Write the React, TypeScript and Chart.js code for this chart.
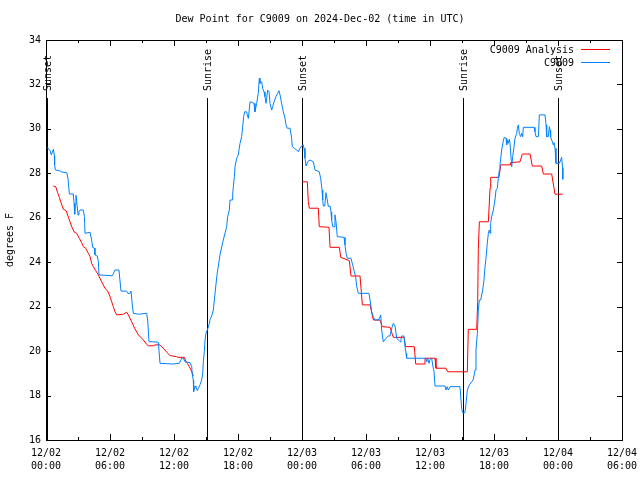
import React, { useEffect, useRef } from "react";
import { Chart, registerables } from "chart.js";

Chart.register(...registerables);

// ---------- text ----------
const TITLE = "Dew Point for C9009 on 2024-Dec-02 (time in UTC)";
const Y_TITLE = "degrees F";
const SERIES_ANALYSIS = "C9009 Analysis";
const SERIES_OBS = "C9009";

// ---------- axes (x in hours since 2024-12-02 00:00 UTC) ----------
const X_MIN = 0;
const X_MAX = 54;
const Y_MIN = 16;
const Y_MAX = 34;
const xTickHours = [0, 6, 12, 18, 24, 30, 36, 42, 48, 54];
const xTickDates = ["12/02", "12/02", "12/02", "12/02", "12/03", "12/03", "12/03", "12/03", "12/04", "12/04"];
const xTickTimes = ["00:00", "06:00", "12:00", "18:00", "00:00", "06:00", "12:00", "18:00", "00:00", "06:00"];
const yTickValues = [16, 18, 20, 22, 24, 26, 28, 30, 32, 34];

// ---------- sun events ----------
const eventHours = [0.1, 15.06, 24.0, 39.12, 48.0];
const eventLabels = ["Sunset", "Sunrise", "Sunset", "Sunrise", "Sunset"];

// ---------- C9009 Analysis (red) ----------
const analysisHours = [
  0.68, 0.91, 1.09, 1.25, 1.41, 1.63, 1.88, 2.06, 2.25, 2.44, 2.66, 2.88, 3.13, 3.34, 3.5, 3.72, 3.97, 4.13, 4.28, 4.44,
  4.66, 4.91, 5.22, 5.53, 5.78, 6.0, 6.16, 6.31, 6.47, 6.63, 7.25, 7.56, 7.72, 8.03, 8.34, 8.66, 9.13, 9.44, 9.59, 10.06,
  10.22, 10.69, 11.0, 11.31, 11.63, 12.25, 12.38, 12.97, 13.06, 13.25, 13.44, 13.59, 13.72, 13.81,
  18.0,
  24.03, 24.5, 24.59, 24.69, 25.53, 25.62, 26.53, 26.63, 27.5, 27.63, 28.44, 28.59, 29.44, 29.66, 30.38, 30.69, 31.31,
  31.53, 32.25, 32.56, 33.56, 33.72, 34.53, 34.66, 35.47, 35.53, 36.47, 36.56, 37.5, 37.66, 39.5, 39.59, 40.38, 40.47,
  40.53, 40.63, 41.47, 41.63, 41.69, 42.47, 42.63, 43.5, 43.56, 44.44, 44.66, 45.38, 45.59, 46.47, 46.63, 47.41, 47.72,
  48.44,
];
const analysisValues = [
  27.43, 27.4, 27.13, 26.92, 26.68, 26.38, 26.32, 26.08, 25.82, 25.57, 25.35, 25.3, 25.07, 24.88, 24.7, 24.63, 24.4, 24.25,
  23.95, 23.8, 23.62, 23.43, 23.12, 22.83, 22.7, 22.45, 22.22, 22.0, 21.77, 21.63, 21.66, 21.75, 21.63, 21.32, 21.0, 20.73,
  20.5, 20.3, 20.24, 20.24, 20.28, 20.28, 20.13, 19.95, 19.8, 19.75, 19.72, 19.72, 19.6, 19.45, 19.3, 19.15, 19.0, 18.88,
  null,
  27.62, 27.62, 26.73, 26.43, 26.43, 25.6, 25.57, 24.67, 24.67, 24.22, 24.07, 23.38, 23.38, 22.08, 22.08, 21.4, 21.4,
  21.1, 21.07, 20.62, 20.62, 20.2, 20.2, 19.42, 19.42, 19.68, 19.68, 19.23, 19.23, 19.07, 19.07, 20.98, 20.98, 22.22,
  24.63, 25.82, 25.82, 27.33, 27.82, 27.82, 28.38, 28.38, 28.48, 28.52, 28.87, 28.87, 28.33, 28.33, 27.97, 27.97, 27.06,
  27.06,
];

// ---------- C9009 observations (blue) ----------
const obsHours = [
  0.12, 0.38, 0.5, 0.69, 0.78, 0.81, 0.88, 1.25, 1.47, 1.94, 2.06, 2.19, 2.56, 2.63, 2.69, 2.75, 2.81, 2.88, 3.0, 3.09,
  3.19, 3.5, 3.6, 3.66, 4.13, 4.28, 4.37, 4.53, 4.59, 4.81, 4.91, 4.97, 6.22, 6.47, 6.84, 7.03, 7.56, 7.66, 7.88, 7.97,
  8.09, 8.19, 8.66, 9.44, 9.53, 9.66, 9.97, 10.53, 10.69, 11.94, 12.5, 12.72, 12.87, 13.03, 13.5, 13.66, 13.72, 13.81,
  13.84, 13.97, 14.06, 14.19, 14.28, 14.44, 14.59, 14.69, 14.75, 14.84, 14.91, 15.0, 15.12, 15.22, 15.31, 15.38, 15.53,
  15.69, 15.78, 16.03, 16.31, 16.62, 16.78, 16.94, 17.03, 17.19, 17.25, 17.47, 17.5, 17.56, 17.66, 17.72, 17.88, 18.03,
  18.12, 18.19, 18.34, 18.44, 18.53, 18.63, 18.81, 18.87, 18.97, 19.13, 19.38, 19.5, 19.59, 19.75, 19.9, 20.0, 20.06,
  20.22, 20.31, 20.44, 20.53, 20.63, 20.78, 20.91, 21.0, 21.16, 21.25, 21.38, 21.56, 21.72, 21.84, 21.94, 22.09, 22.25,
  22.41, 22.5, 22.62, 22.88, 23.03, 23.09, 23.28, 23.5, 23.66, 23.81, 23.97, 24.12, 24.19, 24.28, 24.38, 24.53, 24.75,
  25.06, 25.22, 25.62, 25.75, 25.88, 25.94, 26.0, 26.13, 26.25, 26.37, 26.47, 26.63, 26.72, 26.78, 26.88, 27.0, 27.09,
  27.19, 27.31, 27.94, 28.03, 28.13, 28.25, 28.59, 28.75, 28.88, 29.03, 29.13, 29.28, 30.28, 30.38, 30.53, 30.69, 30.84,
  31.16, 31.25, 31.38, 31.47, 31.62, 31.88, 32.09, 32.25, 32.41, 32.56, 32.72, 32.88, 33.19, 33.28, 33.34, 33.56, 33.66,
  33.75, 33.81, 35.6, 35.69, 35.78, 35.91, 36.0, 36.16, 36.25, 36.38, 36.47, 37.41, 37.5, 37.62, 37.72, 37.88, 38.81,
  38.88, 38.97, 39.06, 39.28, 39.38, 39.5, 39.69, 39.91, 40.06, 40.22, 40.31, 40.44, 40.53, 40.63, 40.75, 40.94, 41.06,
  41.16, 41.25, 41.37, 41.47, 41.56, 41.63, 41.69, 41.78, 41.94, 42.09, 42.19, 42.31, 42.41, 42.5, 42.56, 42.63, 42.72,
  42.81, 42.88, 42.97, 43.13, 43.19, 43.28, 43.34, 43.44, 43.5, 43.66, 43.75, 43.88, 43.97, 44.13, 44.19, 44.28, 44.37,
  44.5, 44.59, 44.69, 44.75, 45.75, 45.84, 45.94, 46.16, 46.25, 46.78, 46.88, 46.94, 47.09, 47.19, 47.25, 47.31, 47.47,
  47.56, 47.63, 47.72, 47.81, 48.13, 48.25, 48.34, 48.44, 48.45,
];
const obsValues = [
  29.17, 29.02, 28.83, 29.08, 28.8, 28.38, 28.15, 28.12, 28.06, 28.03, 27.78, 27.07, 27.07, 26.65, 26.16, 26.61, 27.01,
  26.72, 26.13, 26.27, 26.35, 26.35, 26.05, 25.3, 25.35, 25.0, 24.67, 24.64, 24.33, 24.28, 24.02, 23.43, 23.39, 23.65,
  23.65, 22.7, 22.7, 22.6, 22.6, 22.7, 22.08, 21.7, 21.66, 21.7, 21.4, 20.42, 20.42, 20.4, 19.45, 19.42, 19.45, 19.68,
  19.68, 19.52, 19.48, 19.3, 18.93, 18.7, 18.17, 18.43, 18.37, 18.22, 18.33, 18.48, 18.7, 18.97, 19.52, 19.97, 20.5, 20.8,
  20.95, 21.07, 21.25, 21.43, 21.58, 21.85, 22.3, 23.43, 24.33, 25.0, 25.3, 25.6, 26.05, 26.35, 26.8, 26.8, 27.03, 27.4,
  27.85, 28.3, 28.68, 28.83, 29.13, 29.35, 29.65, 30.1, 30.55, 30.77, 30.77, 30.63, 30.47, 31.22, 31.18, 31.15, 30.77,
  31.15, 31.6, 32.28, 32.05, 32.12, 31.83, 31.67, 31.45, 31.15, 31.75, 31.67, 31.15, 30.85, 31.0, 31.22, 31.45, 31.6,
  31.72, 31.53, 31.15, 30.77, 30.47, 30.18, 30.03, 30.03, 29.58, 29.2, 29.13, 29.05, 28.97, 29.13, 29.23, 29.28, 29.13,
  28.68, 28.33, 28.52, 28.6, 28.52, 28.15, 28.07, 27.77, 27.25, 26.8, 26.53, 26.53, 27.13, 26.8, 26.5, 26.53, 26.27, 25.9,
  25.6, 25.6, 26.13, 25.82, 25.15, 25.12, 24.78, 24.4, 24.18, 24.18, 23.88, 23.62, 23.35, 22.9, 22.6, 22.6, 22.3, 21.77,
  21.55, 21.4, 21.4, 21.48, 21.63, 20.95, 20.42, 20.58, 20.68, 20.68, 21.03, 21.25, 21.13, 20.58, 20.42, 20.53, 20.68,
  20.68, 20.2, 19.9, 19.68, 19.68, 19.52, 19.68, 19.45, 19.63, 19.68, 19.38, 19.07, 18.43, 18.43, 18.25, 18.4, 18.25,
  18.4, 18.4, 17.95, 17.43, 17.23, 17.23, 17.65, 18.25, 18.48, 18.62, 18.73, 19.15, 20.05, 20.8, 21.85, 22.3, 22.3, 22.75,
  23.2, 23.8, 24.18, 24.85, 25.3, 25.45, 25.3, 25.75, 26.05, 26.35, 26.8, 27.25, 27.33, 27.78, 28.15, 28.38, 28.68, 29.05,
  29.28, 29.5, 29.62, 29.58, 29.28, 29.5, 29.35, 29.53, 29.35, 28.3, 28.75, 29.2, 29.58, 29.8, 30.03, 30.18, 29.8, 29.65,
  29.8, 29.65, 30.07, 30.07, 29.87, 29.65, 29.65, 30.63, 30.63, 30.18, 29.65, 29.65, 30.1, 29.95, 29.62, 29.43, 29.28,
  29.38, 29.13, 28.45, 28.45, 28.6, 28.72, 28.23, 27.73,
];

const RED = "#ff0000";
const BLUE = "#0080ff";
const FONT = "'DejaVu Sans Mono', 'Liberation Mono', monospace";
const FONT_SIZE = 10;

const toPoints = (xs: number[], ys: (number | null)[]) => xs.map((x, i) => ({ x, y: ys[i] }));

const gnuplotPlugin = {
  id: "gnuplotDecor",
  beforeDatasetsDraw(chart: any) {
    const { ctx, chartArea: a, scales } = chart;
    const xs = scales.x;
    const ys = scales.y;
    ctx.save();
    ctx.strokeStyle = "#000";
    ctx.lineWidth = 1;
    // frame
    ctx.strokeRect(a.left + 0.5, a.top + 0.5, a.right - a.left, a.bottom - a.top);
    // x ticks (major every 6h, minor every 3h), mirrored on top
    ctx.beginPath();
    for (let t = X_MIN; t <= X_MAX; t += 3) {
      const px = Math.round(xs.getPixelForValue(t)) + 0.5;
      const len = t % 6 === 0 ? 6 : 3;
      ctx.moveTo(px, a.bottom);
      ctx.lineTo(px, a.bottom - len);
      ctx.moveTo(px, a.top);
      ctx.lineTo(px, a.top + len);
    }
    // y ticks, mirrored on right
    for (const v of yTickValues) {
      const py = Math.round(ys.getPixelForValue(v)) + 0.5;
      ctx.moveTo(a.left, py);
      ctx.lineTo(a.left + 5, py);
      ctx.moveTo(a.right, py);
      ctx.lineTo(a.right - 5, py);
    }
    ctx.stroke();
    // sun events
    ctx.fillStyle = "#000";
    ctx.font = `${FONT_SIZE}px ${FONT}`;
    eventHours.forEach((t, i) => {
      const px = Math.round(xs.getPixelForValue(t)) + 0.5;
      ctx.beginPath();
      ctx.moveTo(px, a.top + 58);
      ctx.lineTo(px, a.bottom);
      ctx.stroke();
      ctx.save();
      ctx.translate(px + 1, a.top + 51);
      ctx.rotate(-Math.PI / 2);
      ctx.textAlign = "left";
      ctx.textBaseline = "middle";
      ctx.fillText(eventLabels[i], 0, 0);
      ctx.restore();
    });
    ctx.restore();
  },
  afterDraw(chart: any) {
    const { ctx, chartArea: a, width } = chart;
    ctx.save();
    ctx.fillStyle = "#000";
    ctx.font = `${FONT_SIZE}px ${FONT}`;
    // title
    ctx.textAlign = "center";
    ctx.textBaseline = "middle";
    ctx.fillText(TITLE, width / 2, 19);
    // y title
    ctx.save();
    ctx.translate(10, (a.top + a.bottom) / 2);
    ctx.rotate(-Math.PI / 2);
    ctx.fillText(Y_TITLE, 0, 0);
    ctx.restore();
    // legend
    const entries = [
      { label: SERIES_ANALYSIS, color: RED },
      { label: SERIES_OBS, color: BLUE },
    ];
    entries.forEach((e, i) => {
      const yy = a.top + 10 + i * 13;
      ctx.textAlign = "right";
      ctx.fillStyle = "#000";
      ctx.fillText(e.label, a.right - 48, yy);
      ctx.strokeStyle = e.color;
      ctx.lineWidth = 1;
      ctx.beginPath();
      ctx.moveTo(a.right - 41, Math.round(yy) - 0.5);
      ctx.lineTo(a.right - 12, Math.round(yy) - 0.5);
      ctx.stroke();
    });
    ctx.restore();
  },
};

export default function App() {
  const canvasRef = useRef<HTMLCanvasElement | null>(null);

  useEffect(() => {
    document.body.style.margin = "0";
    const canvas = canvasRef.current;
    if (!canvas) return;
    const chart = new Chart(canvas, {
      type: "line",
      data: {
        datasets: [
          {
            label: SERIES_ANALYSIS,
            data: toPoints(analysisHours, analysisValues),
            borderColor: RED,
            backgroundColor: RED,
            borderWidth: 1,
            pointRadius: 0,
            tension: 0,
            spanGaps: false,
            fill: false,
            order: 2,
          },
          {
            label: SERIES_OBS,
            data: toPoints(obsHours, obsValues),
            borderColor: BLUE,
            backgroundColor: BLUE,
            borderWidth: 1,
            pointRadius: 0,
            tension: 0,
            fill: false,
            order: 1,
          },
        ],
      },
      options: {
        responsive: false,
        animation: false,
        events: [],
        layout: { padding: { top: 40, right: 18, left: 0, bottom: 0 } },
        plugins: {
          legend: { display: false },
          title: { display: false },
          tooltip: { enabled: false },
        },
        scales: {
          x: {
            type: "linear",
            min: X_MIN,
            max: X_MAX,
            afterFit: (scale: any) => {
              scale.height = 40;
              scale.paddingLeft = 0;
              scale.paddingRight = 0;
            },
            afterBuildTicks: (scale: any) => {
              scale.ticks = xTickHours.map((v) => ({ value: v }));
            },
            grid: { display: false, drawTicks: false, tickLength: 0 },
            border: { display: false },
            ticks: {
              autoSkip: false,
              maxRotation: 0,
              minRotation: 0,
              padding: 7,
              color: "#000",
              font: { family: FONT, size: FONT_SIZE, lineHeight: "13px" },
              callback: (value: any) => {
                const i = xTickHours.indexOf(Number(value));
                return i >= 0 ? [xTickDates[i], xTickTimes[i]] : "";
              },
            },
          },
          y: {
            type: "linear",
            min: Y_MIN,
            max: Y_MAX,
            afterFit: (scale: any) => {
              scale.width = 46;
              scale.paddingTop = 0;
              scale.paddingBottom = 0;
            },
            afterBuildTicks: (scale: any) => {
              scale.ticks = yTickValues.map((v) => ({ value: v }));
            },
            grid: { display: false, drawTicks: false, tickLength: 0 },
            border: { display: false },
            ticks: {
              autoSkip: false,
              padding: 5,
              color: "#000",
              font: { family: FONT, size: FONT_SIZE },
            },
          },
        },
      },
      plugins: [gnuplotPlugin],
    });
    return () => chart.destroy();
  }, []);

  return (
    <canvas
      ref={canvasRef}
      width={640}
      height={480}
      style={{ position: "absolute", left: 0, top: 0, display: "block", width: 640, height: 480 }}
    />
  );
}
